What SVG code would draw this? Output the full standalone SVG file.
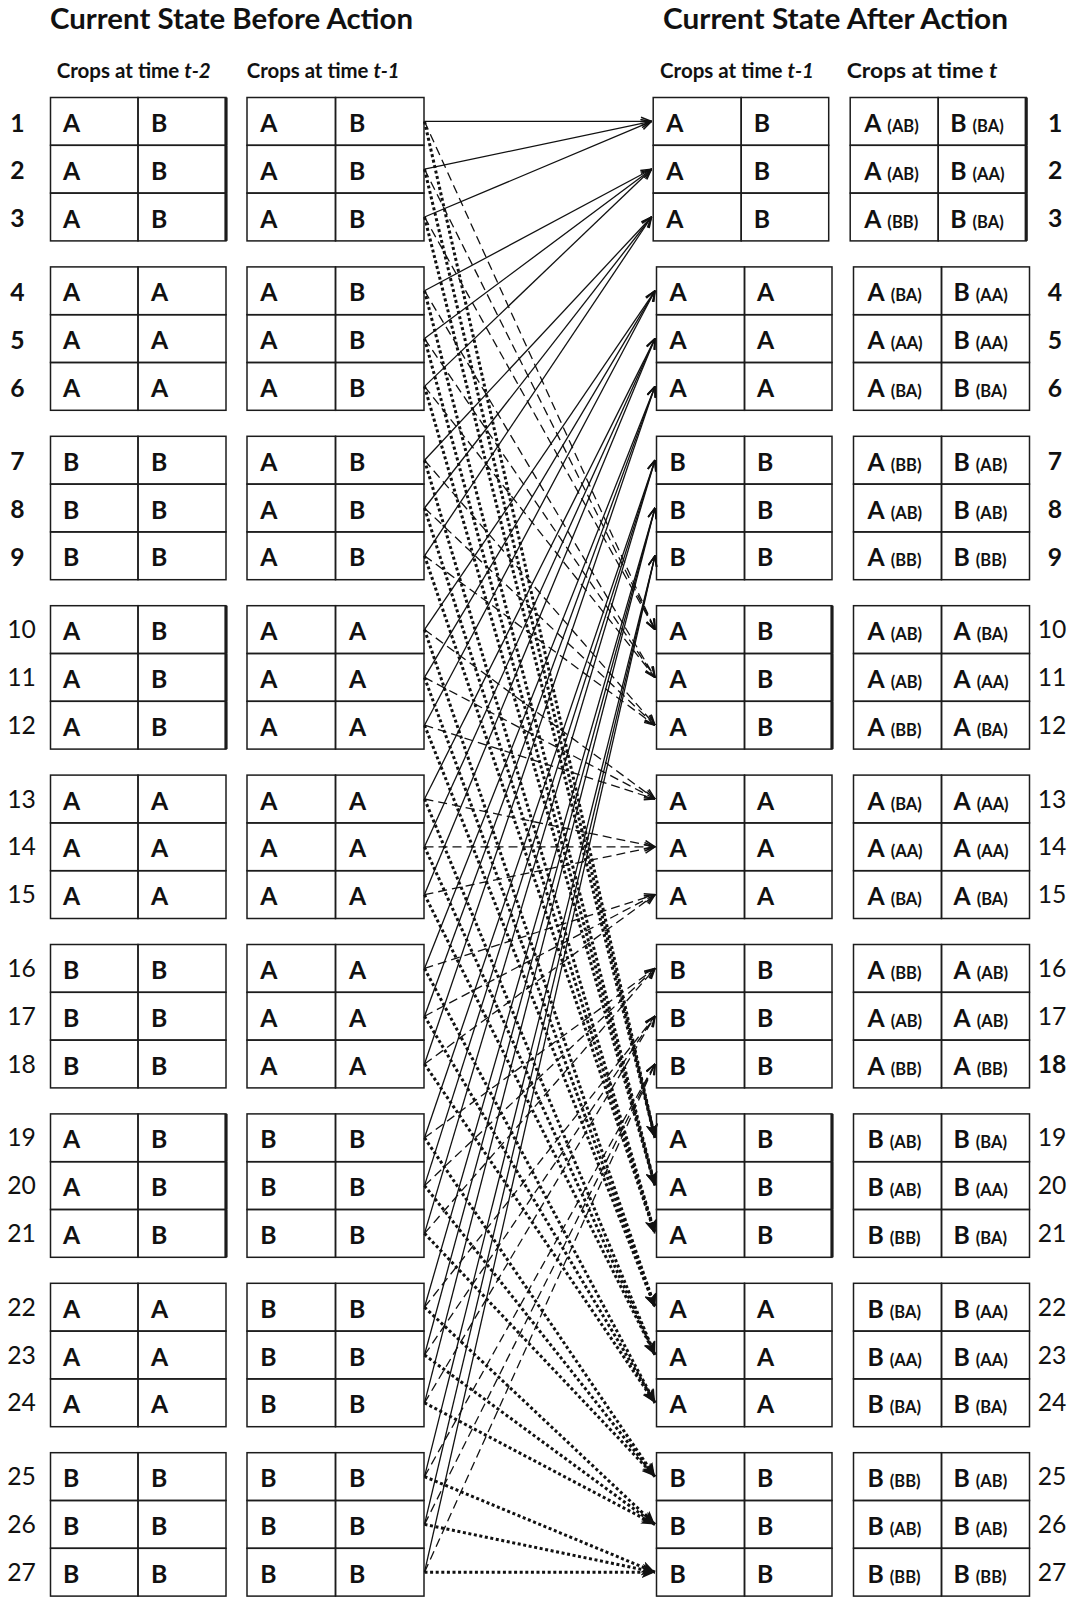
<svg xmlns="http://www.w3.org/2000/svg" xmlns:xlink="http://www.w3.org/1999/xlink" width="1076" height="1597" viewBox="0 0 1076 1597">
<style>
text{font-family:Lato,Carlito,"Open Sans","Liberation Sans",sans-serif;fill:#111}
.h1{font-size:28px;font-weight:700}
.h2{font-size:20px;font-weight:700}
.t{font-size:24.7px;font-weight:700}
.sm{font-size:16.5px;font-weight:700}
.n{font-size:24.7px;text-anchor:middle}
.b{font-weight:700}
.r{font-weight:400}
.c{fill:none;stroke:#1c1c1c;stroke-width:1.5}
.tk{stroke:#1c1c1c;stroke-width:3.2}
.s{stroke:#111;stroke-width:1.3;fill:none;marker-end:url(#a1)}
.d{stroke:#111;stroke-width:1.3;fill:none;stroke-dasharray:9 5;marker-end:url(#a1)}
.p{stroke:#111;stroke-width:3;fill:none;stroke-dasharray:3 2.6;marker-end:url(#a2)}
</style>
<defs>
<marker id="a1" viewBox="0 0 12 10" refX="11.5" refY="5" markerWidth="12" markerHeight="10" markerUnits="userSpaceOnUse" orient="auto"><path d="M1,0.8 L11.5,5 L1,9.2" fill="none" stroke="#111" stroke-width="1.5"/></marker>
<marker id="a2" viewBox="0 0 14 12" refX="13.5" refY="6" markerWidth="14" markerHeight="12" markerUnits="userSpaceOnUse" orient="auto"><path d="M0,0 L13.5,6 L0,12 L3.5,6 Z" fill="#111"/></marker>
<g id="lf"><rect class="c" x="50.5" y="0" width="87.5" height="47.8"/><rect class="c" x="138" y="0" width="88" height="47.8"/><rect class="c" x="247" y="0" width="88.5" height="47.8"/><rect class="c" x="335.5" y="0" width="88.5" height="47.8"/></g>
<g id="rf"><rect class="c" x="656.5" y="0" width="88" height="47.8"/><rect class="c" x="744.5" y="0" width="87.5" height="47.8"/><rect class="c" x="853.5" y="0" width="88" height="47.8"/><rect class="c" x="941.5" y="0" width="88" height="47.8"/></g>
</defs>
<rect width="1076" height="1597" fill="#fff"/>
<g id="headers">
<text class="h1" x="50" y="29" textLength="363" lengthAdjust="spacingAndGlyphs">Current State Before Action</text>
<text class="h1" x="663" y="29" textLength="345" lengthAdjust="spacingAndGlyphs">Current State After Action</text>
<text class="h2" x="56.7" y="78.3" textLength="154" lengthAdjust="spacingAndGlyphs">Crops at time <tspan font-style="italic">t-2</tspan></text>
<text class="h2" x="246.7" y="78.3" textLength="153" lengthAdjust="spacingAndGlyphs">Crops at time <tspan font-style="italic">t-1</tspan></text>
<text class="h2" x="660" y="78.3" textLength="154" lengthAdjust="spacingAndGlyphs">Crops at time <tspan font-style="italic">t-1</tspan></text>
<text class="h2" x="846.7" y="78.3" textLength="150.6" lengthAdjust="spacingAndGlyphs">Crops at time <tspan font-style="italic">t</tspan></text>
</g>
<g id="left-rows">
<g id="L1" transform="translate(0,97.5)"><use href="#lf"/><line class="tk" x1="226" y1="0" x2="226" y2="47.8"/><text class="n b" x="17.5" y="34.2">1</text><text class="t" x="63" y="34.5">A</text><text class="t" x="151" y="34.5">B</text><text class="t" x="260.3" y="34.5">A</text><text class="t" x="349" y="34.5">B</text></g>
<g id="L2" transform="translate(0,145.3)"><use href="#lf"/><line class="tk" x1="226" y1="0" x2="226" y2="47.8"/><text class="n b" x="17.5" y="34.2">2</text><text class="t" x="63" y="34.5">A</text><text class="t" x="151" y="34.5">B</text><text class="t" x="260.3" y="34.5">A</text><text class="t" x="349" y="34.5">B</text></g>
<g id="L3" transform="translate(0,193.1)"><use href="#lf"/><line class="tk" x1="226" y1="0" x2="226" y2="47.8"/><text class="n b" x="17.5" y="34.2">3</text><text class="t" x="63" y="34.5">A</text><text class="t" x="151" y="34.5">B</text><text class="t" x="260.3" y="34.5">A</text><text class="t" x="349" y="34.5">B</text></g>
<g id="L4" transform="translate(0,266.9)"><use href="#lf"/><text class="n b" x="17.5" y="34.2">4</text><text class="t" x="63" y="34.5">A</text><text class="t" x="151" y="34.5">A</text><text class="t" x="260.3" y="34.5">A</text><text class="t" x="349" y="34.5">B</text></g>
<g id="L5" transform="translate(0,314.7)"><use href="#lf"/><text class="n b" x="17.5" y="34.2">5</text><text class="t" x="63" y="34.5">A</text><text class="t" x="151" y="34.5">A</text><text class="t" x="260.3" y="34.5">A</text><text class="t" x="349" y="34.5">B</text></g>
<g id="L6" transform="translate(0,362.5)"><use href="#lf"/><text class="n b" x="17.5" y="34.2">6</text><text class="t" x="63" y="34.5">A</text><text class="t" x="151" y="34.5">A</text><text class="t" x="260.3" y="34.5">A</text><text class="t" x="349" y="34.5">B</text></g>
<g id="L7" transform="translate(0,436.3)"><use href="#lf"/><text class="n b" x="17.5" y="34.2">7</text><text class="t" x="63" y="34.5">B</text><text class="t" x="151" y="34.5">B</text><text class="t" x="260.3" y="34.5">A</text><text class="t" x="349" y="34.5">B</text></g>
<g id="L8" transform="translate(0,484.1)"><use href="#lf"/><text class="n b" x="17.5" y="34.2">8</text><text class="t" x="63" y="34.5">B</text><text class="t" x="151" y="34.5">B</text><text class="t" x="260.3" y="34.5">A</text><text class="t" x="349" y="34.5">B</text></g>
<g id="L9" transform="translate(0,531.9)"><use href="#lf"/><text class="n b" x="17.5" y="34.2">9</text><text class="t" x="63" y="34.5">B</text><text class="t" x="151" y="34.5">B</text><text class="t" x="260.3" y="34.5">A</text><text class="t" x="349" y="34.5">B</text></g>
<g id="L10" transform="translate(0,605.7)"><use href="#lf"/><line class="tk" x1="226" y1="0" x2="226" y2="47.8"/><text class="n r" x="21.5" y="32.5">10</text><text class="t" x="63" y="34.5">A</text><text class="t" x="151" y="34.5">B</text><text class="t" x="260.3" y="34.5">A</text><text class="t" x="349" y="34.5">A</text></g>
<g id="L11" transform="translate(0,653.5)"><use href="#lf"/><line class="tk" x1="226" y1="0" x2="226" y2="47.8"/><text class="n r" x="21.5" y="32.5">11</text><text class="t" x="63" y="34.5">A</text><text class="t" x="151" y="34.5">B</text><text class="t" x="260.3" y="34.5">A</text><text class="t" x="349" y="34.5">A</text></g>
<g id="L12" transform="translate(0,701.3)"><use href="#lf"/><line class="tk" x1="226" y1="0" x2="226" y2="47.8"/><text class="n r" x="21.5" y="32.5">12</text><text class="t" x="63" y="34.5">A</text><text class="t" x="151" y="34.5">B</text><text class="t" x="260.3" y="34.5">A</text><text class="t" x="349" y="34.5">A</text></g>
<g id="L13" transform="translate(0,775.1)"><use href="#lf"/><text class="n r" x="21.5" y="32.5">13</text><text class="t" x="63" y="34.5">A</text><text class="t" x="151" y="34.5">A</text><text class="t" x="260.3" y="34.5">A</text><text class="t" x="349" y="34.5">A</text></g>
<g id="L14" transform="translate(0,822.9)"><use href="#lf"/><text class="n r" x="21.5" y="32.5">14</text><text class="t" x="63" y="34.5">A</text><text class="t" x="151" y="34.5">A</text><text class="t" x="260.3" y="34.5">A</text><text class="t" x="349" y="34.5">A</text></g>
<g id="L15" transform="translate(0,870.7)"><use href="#lf"/><text class="n r" x="21.5" y="32.5">15</text><text class="t" x="63" y="34.5">A</text><text class="t" x="151" y="34.5">A</text><text class="t" x="260.3" y="34.5">A</text><text class="t" x="349" y="34.5">A</text></g>
<g id="L16" transform="translate(0,944.5)"><use href="#lf"/><text class="n r" x="21.5" y="32.5">16</text><text class="t" x="63" y="34.5">B</text><text class="t" x="151" y="34.5">B</text><text class="t" x="260.3" y="34.5">A</text><text class="t" x="349" y="34.5">A</text></g>
<g id="L17" transform="translate(0,992.3)"><use href="#lf"/><text class="n r" x="21.5" y="32.5">17</text><text class="t" x="63" y="34.5">B</text><text class="t" x="151" y="34.5">B</text><text class="t" x="260.3" y="34.5">A</text><text class="t" x="349" y="34.5">A</text></g>
<g id="L18" transform="translate(0,1040.1)"><use href="#lf"/><text class="n r" x="21.5" y="32.5">18</text><text class="t" x="63" y="34.5">B</text><text class="t" x="151" y="34.5">B</text><text class="t" x="260.3" y="34.5">A</text><text class="t" x="349" y="34.5">A</text></g>
<g id="L19" transform="translate(0,1113.9)"><use href="#lf"/><line class="tk" x1="226" y1="0" x2="226" y2="47.8"/><text class="n r" x="21.5" y="32.5">19</text><text class="t" x="63" y="34.5">A</text><text class="t" x="151" y="34.5">B</text><text class="t" x="260.3" y="34.5">B</text><text class="t" x="349" y="34.5">B</text></g>
<g id="L20" transform="translate(0,1161.7)"><use href="#lf"/><line class="tk" x1="226" y1="0" x2="226" y2="47.8"/><text class="n r" x="21.5" y="32.5">20</text><text class="t" x="63" y="34.5">A</text><text class="t" x="151" y="34.5">B</text><text class="t" x="260.3" y="34.5">B</text><text class="t" x="349" y="34.5">B</text></g>
<g id="L21" transform="translate(0,1209.5)"><use href="#lf"/><line class="tk" x1="226" y1="0" x2="226" y2="47.8"/><text class="n r" x="21.5" y="32.5">21</text><text class="t" x="63" y="34.5">A</text><text class="t" x="151" y="34.5">B</text><text class="t" x="260.3" y="34.5">B</text><text class="t" x="349" y="34.5">B</text></g>
<g id="L22" transform="translate(0,1283.3)"><use href="#lf"/><text class="n r" x="21.5" y="32.5">22</text><text class="t" x="63" y="34.5">A</text><text class="t" x="151" y="34.5">A</text><text class="t" x="260.3" y="34.5">B</text><text class="t" x="349" y="34.5">B</text></g>
<g id="L23" transform="translate(0,1331.1)"><use href="#lf"/><text class="n r" x="21.5" y="32.5">23</text><text class="t" x="63" y="34.5">A</text><text class="t" x="151" y="34.5">A</text><text class="t" x="260.3" y="34.5">B</text><text class="t" x="349" y="34.5">B</text></g>
<g id="L24" transform="translate(0,1378.9)"><use href="#lf"/><text class="n r" x="21.5" y="32.5">24</text><text class="t" x="63" y="34.5">A</text><text class="t" x="151" y="34.5">A</text><text class="t" x="260.3" y="34.5">B</text><text class="t" x="349" y="34.5">B</text></g>
<g id="L25" transform="translate(0,1452.7)"><use href="#lf"/><text class="n r" x="21.5" y="32.5">25</text><text class="t" x="63" y="34.5">B</text><text class="t" x="151" y="34.5">B</text><text class="t" x="260.3" y="34.5">B</text><text class="t" x="349" y="34.5">B</text></g>
<g id="L26" transform="translate(0,1500.5)"><use href="#lf"/><text class="n r" x="21.5" y="32.5">26</text><text class="t" x="63" y="34.5">B</text><text class="t" x="151" y="34.5">B</text><text class="t" x="260.3" y="34.5">B</text><text class="t" x="349" y="34.5">B</text></g>
<g id="L27" transform="translate(0,1548.3)"><use href="#lf"/><text class="n r" x="21.5" y="32.5">27</text><text class="t" x="63" y="34.5">B</text><text class="t" x="151" y="34.5">B</text><text class="t" x="260.3" y="34.5">B</text><text class="t" x="349" y="34.5">B</text></g>
</g>
<g id="right-rows">
<g id="R1" transform="translate(-3.3,97.5)"><use href="#rf"/><line class="tk" x1="1029.5" y1="0" x2="1029.5" y2="47.8"/><text class="t" x="669.5" y="34.5">A</text><text class="t" x="757" y="34.5">B</text><text class="t" x="867.5" y="34.5">A<tspan class="sm" dx="2"> (AB)</tspan></text><text class="t" x="953.5" y="34.5">B<tspan class="sm" dx="2"> (BA)</tspan></text><text class="n b" x="1058.5" y="34.2">1</text></g>
<g id="R2" transform="translate(-3.3,145.3)"><use href="#rf"/><line class="tk" x1="1029.5" y1="0" x2="1029.5" y2="47.8"/><text class="t" x="669.5" y="34.5">A</text><text class="t" x="757" y="34.5">B</text><text class="t" x="867.5" y="34.5">A<tspan class="sm" dx="2"> (AB)</tspan></text><text class="t" x="953.5" y="34.5">B<tspan class="sm" dx="2"> (AA)</tspan></text><text class="n b" x="1058.5" y="34.2">2</text></g>
<g id="R3" transform="translate(-3.3,193.1)"><use href="#rf"/><line class="tk" x1="1029.5" y1="0" x2="1029.5" y2="47.8"/><text class="t" x="669.5" y="34.5">A</text><text class="t" x="757" y="34.5">B</text><text class="t" x="867.5" y="34.5">A<tspan class="sm" dx="2"> (BB)</tspan></text><text class="t" x="953.5" y="34.5">B<tspan class="sm" dx="2"> (BA)</tspan></text><text class="n b" x="1058.5" y="34.2">3</text></g>
<g id="R4" transform="translate(0,266.9)"><use href="#rf"/><text class="t" x="669.5" y="34.5">A</text><text class="t" x="757" y="34.5">A</text><text class="t" x="867.5" y="34.5">A<tspan class="sm" dx="2"> (BA)</tspan></text><text class="t" x="953.5" y="34.5">B<tspan class="sm" dx="2"> (AA)</tspan></text><text class="n b" x="1055" y="34.2">4</text></g>
<g id="R5" transform="translate(0,314.7)"><use href="#rf"/><text class="t" x="669.5" y="34.5">A</text><text class="t" x="757" y="34.5">A</text><text class="t" x="867.5" y="34.5">A<tspan class="sm" dx="2"> (AA)</tspan></text><text class="t" x="953.5" y="34.5">B<tspan class="sm" dx="2"> (AA)</tspan></text><text class="n b" x="1055" y="34.2">5</text></g>
<g id="R6" transform="translate(0,362.5)"><use href="#rf"/><text class="t" x="669.5" y="34.5">A</text><text class="t" x="757" y="34.5">A</text><text class="t" x="867.5" y="34.5">A<tspan class="sm" dx="2"> (BA)</tspan></text><text class="t" x="953.5" y="34.5">B<tspan class="sm" dx="2"> (BA)</tspan></text><text class="n b" x="1055" y="34.2">6</text></g>
<g id="R7" transform="translate(0,436.3)"><use href="#rf"/><text class="t" x="669.5" y="34.5">B</text><text class="t" x="757" y="34.5">B</text><text class="t" x="867.5" y="34.5">A<tspan class="sm" dx="2"> (BB)</tspan></text><text class="t" x="953.5" y="34.5">B<tspan class="sm" dx="2"> (AB)</tspan></text><text class="n b" x="1055" y="34.2">7</text></g>
<g id="R8" transform="translate(0,484.1)"><use href="#rf"/><text class="t" x="669.5" y="34.5">B</text><text class="t" x="757" y="34.5">B</text><text class="t" x="867.5" y="34.5">A<tspan class="sm" dx="2"> (AB)</tspan></text><text class="t" x="953.5" y="34.5">B<tspan class="sm" dx="2"> (AB)</tspan></text><text class="n b" x="1055" y="34.2">8</text></g>
<g id="R9" transform="translate(0,531.9)"><use href="#rf"/><text class="t" x="669.5" y="34.5">B</text><text class="t" x="757" y="34.5">B</text><text class="t" x="867.5" y="34.5">A<tspan class="sm" dx="2"> (BB)</tspan></text><text class="t" x="953.5" y="34.5">B<tspan class="sm" dx="2"> (BB)</tspan></text><text class="n b" x="1055" y="34.2">9</text></g>
<g id="R10" transform="translate(0,605.7)"><use href="#rf"/><line class="tk" x1="832" y1="0" x2="832" y2="47.8"/><text class="t" x="669.5" y="34.5">A</text><text class="t" x="757" y="34.5">B</text><text class="t" x="867.5" y="34.5">A<tspan class="sm" dx="2"> (AB)</tspan></text><text class="t" x="953.5" y="34.5">A<tspan class="sm" dx="2"> (BA)</tspan></text><text class="n r" x="1052" y="32.5">10</text></g>
<g id="R11" transform="translate(0,653.5)"><use href="#rf"/><line class="tk" x1="832" y1="0" x2="832" y2="47.8"/><text class="t" x="669.5" y="34.5">A</text><text class="t" x="757" y="34.5">B</text><text class="t" x="867.5" y="34.5">A<tspan class="sm" dx="2"> (AB)</tspan></text><text class="t" x="953.5" y="34.5">A<tspan class="sm" dx="2"> (AA)</tspan></text><text class="n r" x="1052" y="32.5">11</text></g>
<g id="R12" transform="translate(0,701.3)"><use href="#rf"/><line class="tk" x1="832" y1="0" x2="832" y2="47.8"/><text class="t" x="669.5" y="34.5">A</text><text class="t" x="757" y="34.5">B</text><text class="t" x="867.5" y="34.5">A<tspan class="sm" dx="2"> (BB)</tspan></text><text class="t" x="953.5" y="34.5">A<tspan class="sm" dx="2"> (BA)</tspan></text><text class="n r" x="1052" y="32.5">12</text></g>
<g id="R13" transform="translate(0,775.1)"><use href="#rf"/><text class="t" x="669.5" y="34.5">A</text><text class="t" x="757" y="34.5">A</text><text class="t" x="867.5" y="34.5">A<tspan class="sm" dx="2"> (BA)</tspan></text><text class="t" x="953.5" y="34.5">A<tspan class="sm" dx="2"> (AA)</tspan></text><text class="n r" x="1052" y="32.5">13</text></g>
<g id="R14" transform="translate(0,822.9)"><use href="#rf"/><text class="t" x="669.5" y="34.5">A</text><text class="t" x="757" y="34.5">A</text><text class="t" x="867.5" y="34.5">A<tspan class="sm" dx="2"> (AA)</tspan></text><text class="t" x="953.5" y="34.5">A<tspan class="sm" dx="2"> (AA)</tspan></text><text class="n r" x="1052" y="32.5">14</text></g>
<g id="R15" transform="translate(0,870.7)"><use href="#rf"/><text class="t" x="669.5" y="34.5">A</text><text class="t" x="757" y="34.5">A</text><text class="t" x="867.5" y="34.5">A<tspan class="sm" dx="2"> (BA)</tspan></text><text class="t" x="953.5" y="34.5">A<tspan class="sm" dx="2"> (BA)</tspan></text><text class="n r" x="1052" y="32.5">15</text></g>
<g id="R16" transform="translate(0,944.5)"><use href="#rf"/><text class="t" x="669.5" y="34.5">B</text><text class="t" x="757" y="34.5">B</text><text class="t" x="867.5" y="34.5">A<tspan class="sm" dx="2"> (BB)</tspan></text><text class="t" x="953.5" y="34.5">A<tspan class="sm" dx="2"> (AB)</tspan></text><text class="n r" x="1052" y="32.5">16</text></g>
<g id="R17" transform="translate(0,992.3)"><use href="#rf"/><text class="t" x="669.5" y="34.5">B</text><text class="t" x="757" y="34.5">B</text><text class="t" x="867.5" y="34.5">A<tspan class="sm" dx="2"> (AB)</tspan></text><text class="t" x="953.5" y="34.5">A<tspan class="sm" dx="2"> (AB)</tspan></text><text class="n r" x="1052" y="32.5">17</text></g>
<g id="R18" transform="translate(0,1040.1)"><use href="#rf"/><text class="t" x="669.5" y="34.5">B</text><text class="t" x="757" y="34.5">B</text><text class="t" x="867.5" y="34.5">A<tspan class="sm" dx="2"> (BB)</tspan></text><text class="t" x="953.5" y="34.5">A<tspan class="sm" dx="2"> (BB)</tspan></text><text class="n b" x="1052" y="32.5">18</text></g>
<g id="R19" transform="translate(0,1113.9)"><use href="#rf"/><line class="tk" x1="832" y1="0" x2="832" y2="47.8"/><text class="t" x="669.5" y="34.5">A</text><text class="t" x="757" y="34.5">B</text><text class="t" x="867.5" y="34.5">B<tspan class="sm" dx="2"> (AB)</tspan></text><text class="t" x="953.5" y="34.5">B<tspan class="sm" dx="2"> (BA)</tspan></text><text class="n r" x="1052" y="32.5">19</text></g>
<g id="R20" transform="translate(0,1161.7)"><use href="#rf"/><line class="tk" x1="832" y1="0" x2="832" y2="47.8"/><text class="t" x="669.5" y="34.5">A</text><text class="t" x="757" y="34.5">B</text><text class="t" x="867.5" y="34.5">B<tspan class="sm" dx="2"> (AB)</tspan></text><text class="t" x="953.5" y="34.5">B<tspan class="sm" dx="2"> (AA)</tspan></text><text class="n r" x="1052" y="32.5">20</text></g>
<g id="R21" transform="translate(0,1209.5)"><use href="#rf"/><line class="tk" x1="832" y1="0" x2="832" y2="47.8"/><text class="t" x="669.5" y="34.5">A</text><text class="t" x="757" y="34.5">B</text><text class="t" x="867.5" y="34.5">B<tspan class="sm" dx="2"> (BB)</tspan></text><text class="t" x="953.5" y="34.5">B<tspan class="sm" dx="2"> (BA)</tspan></text><text class="n r" x="1052" y="32.5">21</text></g>
<g id="R22" transform="translate(0,1283.3)"><use href="#rf"/><text class="t" x="669.5" y="34.5">A</text><text class="t" x="757" y="34.5">A</text><text class="t" x="867.5" y="34.5">B<tspan class="sm" dx="2"> (BA)</tspan></text><text class="t" x="953.5" y="34.5">B<tspan class="sm" dx="2"> (AA)</tspan></text><text class="n r" x="1052" y="32.5">22</text></g>
<g id="R23" transform="translate(0,1331.1)"><use href="#rf"/><text class="t" x="669.5" y="34.5">A</text><text class="t" x="757" y="34.5">A</text><text class="t" x="867.5" y="34.5">B<tspan class="sm" dx="2"> (AA)</tspan></text><text class="t" x="953.5" y="34.5">B<tspan class="sm" dx="2"> (AA)</tspan></text><text class="n r" x="1052" y="32.5">23</text></g>
<g id="R24" transform="translate(0,1378.9)"><use href="#rf"/><text class="t" x="669.5" y="34.5">A</text><text class="t" x="757" y="34.5">A</text><text class="t" x="867.5" y="34.5">B<tspan class="sm" dx="2"> (BA)</tspan></text><text class="t" x="953.5" y="34.5">B<tspan class="sm" dx="2"> (BA)</tspan></text><text class="n r" x="1052" y="32.5">24</text></g>
<g id="R25" transform="translate(0,1452.7)"><use href="#rf"/><text class="t" x="669.5" y="34.5">B</text><text class="t" x="757" y="34.5">B</text><text class="t" x="867.5" y="34.5">B<tspan class="sm" dx="2"> (BB)</tspan></text><text class="t" x="953.5" y="34.5">B<tspan class="sm" dx="2"> (AB)</tspan></text><text class="n r" x="1052" y="32.5">25</text></g>
<g id="R26" transform="translate(0,1500.5)"><use href="#rf"/><text class="t" x="669.5" y="34.5">B</text><text class="t" x="757" y="34.5">B</text><text class="t" x="867.5" y="34.5">B<tspan class="sm" dx="2"> (AB)</tspan></text><text class="t" x="953.5" y="34.5">B<tspan class="sm" dx="2"> (AB)</tspan></text><text class="n r" x="1052" y="32.5">26</text></g>
<g id="R27" transform="translate(0,1548.3)"><use href="#rf"/><text class="t" x="669.5" y="34.5">B</text><text class="t" x="757" y="34.5">B</text><text class="t" x="867.5" y="34.5">B<tspan class="sm" dx="2"> (BB)</tspan></text><text class="t" x="953.5" y="34.5">B<tspan class="sm" dx="2"> (BB)</tspan></text><text class="n r" x="1052" y="32.5">27</text></g>
</g>
<g id="connectors">
<g class="s">
<line x1="424.5" y1="121.4" x2="651.5" y2="121.4"/><line x1="424.5" y1="169.2" x2="651.5" y2="121.4"/><line x1="424.5" y1="217" x2="651.5" y2="121.4"/>
<line x1="424.5" y1="290.8" x2="651.5" y2="169.2"/><line x1="424.5" y1="338.6" x2="651.5" y2="169.2"/><line x1="424.5" y1="386.4" x2="651.5" y2="169.2"/>
<line x1="424.5" y1="460.2" x2="651.5" y2="217"/><line x1="424.5" y1="508" x2="651.5" y2="217"/><line x1="424.5" y1="555.8" x2="651.5" y2="217"/>
<line x1="424.5" y1="629.6" x2="655" y2="290.8"/><line x1="424.5" y1="677.4" x2="655" y2="290.8"/><line x1="424.5" y1="725.2" x2="655" y2="290.8"/>
<line x1="424.5" y1="799" x2="655" y2="338.6"/><line x1="424.5" y1="846.8" x2="655" y2="338.6"/><line x1="424.5" y1="894.6" x2="655" y2="338.6"/>
<line x1="424.5" y1="968.4" x2="655" y2="386.4"/><line x1="424.5" y1="1016.2" x2="655" y2="386.4"/><line x1="424.5" y1="1064" x2="655" y2="386.4"/>
<line x1="424.5" y1="1137.8" x2="655" y2="460.2"/><line x1="424.5" y1="1185.6" x2="655" y2="460.2"/><line x1="424.5" y1="1233.4" x2="655" y2="460.2"/>
<line x1="424.5" y1="1307.2" x2="655" y2="508"/><line x1="424.5" y1="1355" x2="655" y2="508"/><line x1="424.5" y1="1402.8" x2="655" y2="508"/>
<line x1="424.5" y1="1476.6" x2="655" y2="555.8"/><line x1="424.5" y1="1524.4" x2="655" y2="555.8"/><line x1="424.5" y1="1572.2" x2="655" y2="555.8"/>
</g>
<g class="d">
<line x1="424.5" y1="121.4" x2="655" y2="629.6"/><line x1="424.5" y1="169.2" x2="655" y2="629.6"/><line x1="424.5" y1="217" x2="655" y2="629.6"/>
<line x1="424.5" y1="290.8" x2="655" y2="677.4"/><line x1="424.5" y1="338.6" x2="655" y2="677.4"/><line x1="424.5" y1="386.4" x2="655" y2="677.4"/>
<line x1="424.5" y1="460.2" x2="655" y2="725.2"/><line x1="424.5" y1="508" x2="655" y2="725.2"/><line x1="424.5" y1="555.8" x2="655" y2="725.2"/>
<line x1="424.5" y1="629.6" x2="655" y2="799"/><line x1="424.5" y1="677.4" x2="655" y2="799"/><line x1="424.5" y1="725.2" x2="655" y2="799"/>
<line x1="424.5" y1="799" x2="655" y2="846.8"/><line x1="424.5" y1="846.8" x2="655" y2="846.8"/><line x1="424.5" y1="894.6" x2="655" y2="846.8"/>
<line x1="424.5" y1="968.4" x2="655" y2="894.6"/><line x1="424.5" y1="1016.2" x2="655" y2="894.6"/><line x1="424.5" y1="1064" x2="655" y2="894.6"/>
<line x1="424.5" y1="1137.8" x2="655" y2="968.4"/><line x1="424.5" y1="1185.6" x2="655" y2="968.4"/><line x1="424.5" y1="1233.4" x2="655" y2="968.4"/>
<line x1="424.5" y1="1307.2" x2="655" y2="1016.2"/><line x1="424.5" y1="1355" x2="655" y2="1016.2"/><line x1="424.5" y1="1402.8" x2="655" y2="1016.2"/>
<line x1="424.5" y1="1476.6" x2="655" y2="1064"/><line x1="424.5" y1="1524.4" x2="655" y2="1064"/><line x1="424.5" y1="1572.2" x2="655" y2="1064"/>
</g>
<g class="p">
<line x1="424.5" y1="121.4" x2="655" y2="1137.8"/><line x1="424.5" y1="169.2" x2="655" y2="1137.8"/><line x1="424.5" y1="217" x2="655" y2="1137.8"/>
<line x1="424.5" y1="290.8" x2="655" y2="1185.6"/><line x1="424.5" y1="338.6" x2="655" y2="1185.6"/><line x1="424.5" y1="386.4" x2="655" y2="1185.6"/>
<line x1="424.5" y1="460.2" x2="655" y2="1233.4"/><line x1="424.5" y1="508" x2="655" y2="1233.4"/><line x1="424.5" y1="555.8" x2="655" y2="1233.4"/>
<line x1="424.5" y1="629.6" x2="655" y2="1307.2"/><line x1="424.5" y1="677.4" x2="655" y2="1307.2"/><line x1="424.5" y1="725.2" x2="655" y2="1307.2"/>
<line x1="424.5" y1="799" x2="655" y2="1355"/><line x1="424.5" y1="846.8" x2="655" y2="1355"/><line x1="424.5" y1="894.6" x2="655" y2="1355"/>
<line x1="424.5" y1="968.4" x2="655" y2="1402.8"/><line x1="424.5" y1="1016.2" x2="655" y2="1402.8"/><line x1="424.5" y1="1064" x2="655" y2="1402.8"/>
<line x1="424.5" y1="1137.8" x2="655" y2="1476.6"/><line x1="424.5" y1="1185.6" x2="655" y2="1476.6"/><line x1="424.5" y1="1233.4" x2="655" y2="1476.6"/>
<line x1="424.5" y1="1307.2" x2="655" y2="1524.4"/><line x1="424.5" y1="1355" x2="655" y2="1524.4"/><line x1="424.5" y1="1402.8" x2="655" y2="1524.4"/>
<line x1="424.5" y1="1476.6" x2="655" y2="1572.2"/><line x1="424.5" y1="1524.4" x2="655" y2="1572.2"/><line x1="424.5" y1="1572.2" x2="655" y2="1572.2"/>
</g>
</g>
</svg>
